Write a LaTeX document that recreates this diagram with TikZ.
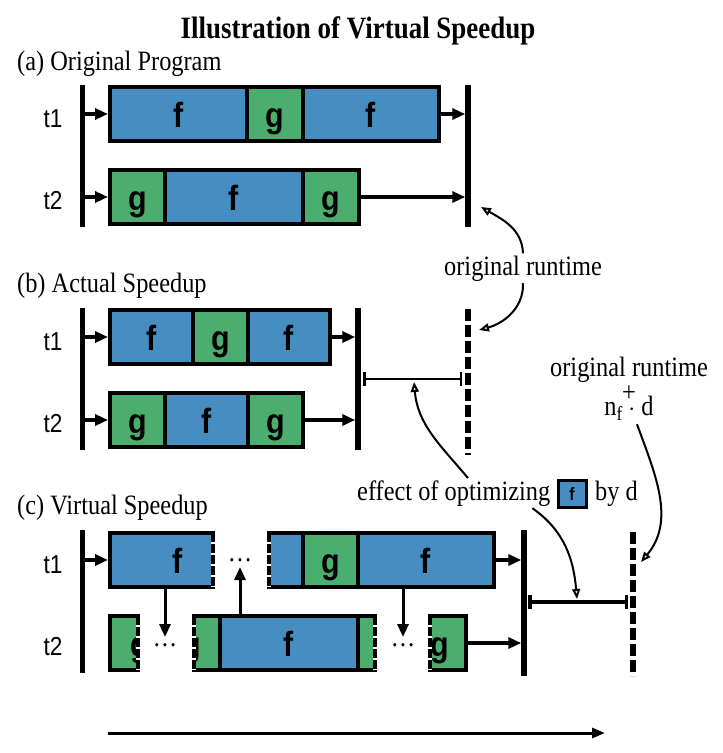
\documentclass[tikz,border=0pt]{standalone}
\usepackage{fontspec}
\setmainfont[FakeStretch=0.87]{Liberation Serif}
\newfontfamily\sansf[FakeStretch=0.87]{Liberation Sans}
\usetikzlibrary{arrows.meta,calc}
\definecolor{fb}{RGB}{70,142,194}
\definecolor{gg}{RGB}{76,174,110}
\tikzset{
 seg/.style={draw, line width=4pt, inner sep=0pt, outer sep=0pt, minimum height=54pt,
   text height=26pt, text depth=0pt, font=\sansf\bfseries\fontsize{35}{35}\selectfont},
 fseg/.style={seg, fill=fb},
 gseg/.style={seg, fill=gg},
 glab/.style={font=\sansf\bfseries\fontsize{35}{35}\selectfont, anchor=base, inner sep=0pt},
 bar/.style={line width=5.5pt},
 dbar/.style={line width=6pt, dash pattern=on 12pt off 4pt},
 conn/.style={line width=3.5pt, -{Triangle[length=13pt,width=11pt]}},
 curv/.style={line width=2pt, -{Triangle[open,length=10pt,width=8pt]}},
 ival/.style={line width=2.5pt, {Bar[width=14pt]}-{Bar[width=14pt]}},
 serif/.style={font=\fontsize{28}{30}\selectfont, inner sep=2pt},
 tlab/.style={font=\sansf\fontsize{26}{26}\selectfont, anchor=base, inner sep=0pt},
 dotl/.style={font=\fontsize{28}{30}\selectfont, anchor=base, inner sep=0pt},
 gap/.style={white, line width=4.5pt, dash pattern=on 2.5pt off 8.5pt, dash phase=2.5pt},
}
\begin{document}
\begin{tikzpicture}[x=1pt,y=-1pt]
\fill[white] (0,0) rectangle (723,753);
\useasboundingbox (0,0) rectangle (723,753);

% ---------- texts ----------
\node[font=\bfseries\fontsize{31}{33}\selectfont, anchor=base, inner sep=0pt] (title) at (358,38) {Illustration of Virtual Speedup};
\node[serif, anchor=base west] (ta) at (15,70) {(a) Original Program};
\node[serif, anchor=base west] (tb) at (15,292) {(b) Actual Speedup};
\node[serif, anchor=base west] (tc) at (15,514) {(c) Virtual Speedup};
\node[serif, anchor=base] (ort) at (523,275) {original runtime};
\node[serif, anchor=base, inner sep=0pt] (ort2) at (629,376) {original runtime};
\node[serif, anchor=base, inner sep=0pt] (plus) at (629,401) {+};
\node[serif, anchor=base, inner sep=0pt] (nfd) at (629,415) {n\raisebox{-5pt}{\fontsize{20}{20}\selectfont f} $\cdot$ d};
\node[serif, anchor=base west] (eff) at (355,500) {effect of optimizing};
\node[fseg, minimum width=28pt, minimum height=27pt, line width=3pt, text height=13pt,
      font=\sansf\bfseries\fontsize{18}{18}\selectfont] (leg) at (572,493.5) {f};
\node[serif, anchor=base west] (byd) at (593,500) {by d};

\node[tlab] (ta1) at (53,127) {t1};
\node[tlab] (ta2) at (53,209) {t2};
\node[tlab] (tb1) at (53,350) {t1};
\node[tlab] (tb2) at (53,432) {t2};
\node[tlab] (tc1) at (53,573) {t1};
\node[tlab] (tc2) at (53,655) {t2};

% ---------- (a) ----------
\coordinate (aLt) at (82.5,85); \coordinate (aLb) at (82.5,227);
\coordinate (aRt) at (468,85); \coordinate (aRb) at (468,227);
\draw[bar] (aLt) -- (aLb);
\draw[bar] (aRt) -- (aRb);
\node[fseg, minimum width=137pt] (a1a) at (178.5,114) {f};
\node[gseg, minimum width=56pt] (a1b) at (275,114) {g};
\node[fseg, minimum width=135.5pt] (a1c) at (370.75,114) {f};
\node[gseg, minimum width=55pt] (a2a) at (137.5,197) {g};
\node[fseg, minimum width=138pt] (a2b) at (234,197) {f};
\node[gseg, minimum width=55.5pt] (a2c) at (330.75,197) {g};
\draw[conn, shorten >=2pt] (aLt |- a1a.west) -- (a1a.west);
\draw[conn, shorten >=2pt] (aLt |- a2a.west) -- (a2a.west);
\draw[conn, shorten >=2.75pt] (a1c.east) -- (aRt |- a1c.east);
\draw[conn, shorten >=2.75pt] (a2c.east) -- (aRt |- a2c.east);

% ---------- (b) ----------
\coordinate (bLt) at (82.5,308); \coordinate (bLb) at (82.5,450);
\coordinate (bMt) at (358,308); \coordinate (bMb) at (358,450);
\coordinate (bDt) at (468,309); \coordinate (bDb) at (468,455);
\draw[bar] (bLt) -- (bLb);
\draw[bar] (bMt) -- (bMb);
\draw[dbar] (bDt) -- (bDb);
\node[fseg, minimum width=83pt] (b1a) at (151.5,337) {f};
\node[gseg, minimum width=55pt] (b1b) at (220.5,337) {g};
\node[fseg, minimum width=82pt] (b1c) at (289,337) {f};
\node[gseg, minimum width=55pt] (b2a) at (137.5,420) {g};
\node[fseg, minimum width=83pt] (b2b) at (206.5,420) {f};
\node[gseg, minimum width=55pt] (b2c) at (275.5,420) {g};
\draw[conn, shorten >=2pt] (bLt |- b1a.west) -- (b1a.west);
\draw[conn, shorten >=2pt] (bLt |- b2a.west) -- (b2a.west);
\draw[conn, shorten >=2.75pt] (b1c.east) -- (bMt |- b1c.east);
\draw[conn, shorten >=2.75pt] (b2c.east) -- (bMt |- b2c.east);
\coordinate (bI1) at (363,379); \coordinate (bI2) at (462,379);
\draw[ival] (bI1) -- (bI2);
\coordinate (bImid) at (414,382);

% ---------- (c) ----------
\coordinate (cLt) at (82.5,530); \coordinate (cLb) at (82.5,673);
\coordinate (cRt) at (524,530); \coordinate (cRb) at (524,676);
\coordinate (cDt) at (633,532); \coordinate (cDb) at (633,676);
\draw[bar] (cLt) -- (cLb);
\draw[bar] (cRt) -- (cRb);
\draw[dbar] (cDt) -- (cDb);
% t1 row
\node[fseg, minimum width=103pt] (c1a) at (161.5,560) {};
\node[glab] (c1al) at (178,573) {f};
\draw[gap] (c1a.north east) -- (c1a.south east);
\node[fseg, minimum width=34pt] (c1b) at (286,560) {};
\draw[gap] (c1b.north west) -- (c1b.south west);
\node[gseg, minimum width=55pt] (c1c) at (330.5,560) {g};
\node[fseg, minimum width=136pt] (c1d) at (426,560) {f};
\node[dotl] (cdt1) at (240,561) {\dots};
% t2 row
\node[gseg, minimum width=28pt] (c2a) at (124,643) {};
\begin{scope}
\clip ([shift={(2pt,-2pt)}]c2a.north west) rectangle ([shift={(-2pt,2pt)}]c2a.south east);
\node[glab] (c2al) at (140,656) {g};
\end{scope}
\draw[gap] (c2a.north east) -- (c2a.south east);
\node[dotl] (cdt2) at (165,646) {\dots};
\node[gseg, minimum width=26pt] (c2b) at (207,643) {};
\begin{scope}
\clip ([shift={(2pt,-2pt)}]c2b.north west) rectangle ([shift={(-2pt,2pt)}]c2b.south east);
\node[glab] (c2bl) at (192,656) {g};
\end{scope}
\draw[gap] (c2b.north west) -- (c2b.south west);
\node[fseg, minimum width=138pt] (c2c) at (289,643) {f};
\node[gseg, minimum width=17pt] (c2d) at (366.5,643) {};
\draw[gap] (c2d.north east) -- (c2d.south east);
\node[dotl] (cdt3) at (403,646) {\dots};
\node[gseg, minimum width=36pt] (c2e) at (448,643) {};
\begin{scope}
\clip ([shift={(2pt,-2pt)}]c2e.north west) rectangle ([shift={(-2pt,2pt)}]c2e.south east);
\node[glab] (c2el) at (440,656) {g};
\end{scope}
\draw[gap] (c2e.north west) -- (c2e.south west);
% connectors
\draw[conn, shorten >=2pt] (cLt |- c1a.west) -- (c1a.west);
\draw[conn, shorten >=2.75pt] (c1d.east) -- (cRt |- c1d.east);
\draw[conn, shorten >=2.75pt] (c2e.east) -- (cRt |- c2e.east);
\coordinate (cd1) at (165,637);
\coordinate (cu1) at (240,567);
\coordinate (cd2) at (403,637);
\draw[conn, line width=3pt] ([xshift=3.5pt]c1a.south) -- (cd1);
\draw[conn, line width=3pt] ([xshift=-49pt]c2c.north) -- (cu1);
\draw[conn, line width=3pt] ([xshift=-23pt]c1d.south) -- (cd2);
\coordinate (cI1) at (528,602); \coordinate (cI2) at (628,602);
\draw[ival, line width=3.5pt] (cI1) -- (cI2);
\coordinate (cImid) at (577,599);

% ---------- annotation curves ----------
\coordinate (aRtip) at (481,207);
\coordinate (bDtip) at (479,330);
\coordinate (cDtip) at (641,562);
\draw[curv] (ort.north) to[out=92,in=-30] (aRtip);
\draw[curv] (ort.south) to[out=-88,in=15] (bDtip);
\draw[curv] ([xshift=113pt]eff.north west) to[out=130,in=-85] (bImid);
\draw[curv] ([xshift=-20pt]eff.south east) to[out=-35,in=95] (cImid);
\draw[curv] ([xshift=8pt,yshift=-4pt]nfd.south) to[out=-70,in=50] (cDtip);

% ---------- time axis ----------
\coordinate (ax1) at (108,733); \coordinate (ax2) at (605,733);
\draw[line width=3pt, -{Triangle[length=13pt,width=10pt]}] (ax1) -- (ax2);
\end{tikzpicture}
\end{document}
